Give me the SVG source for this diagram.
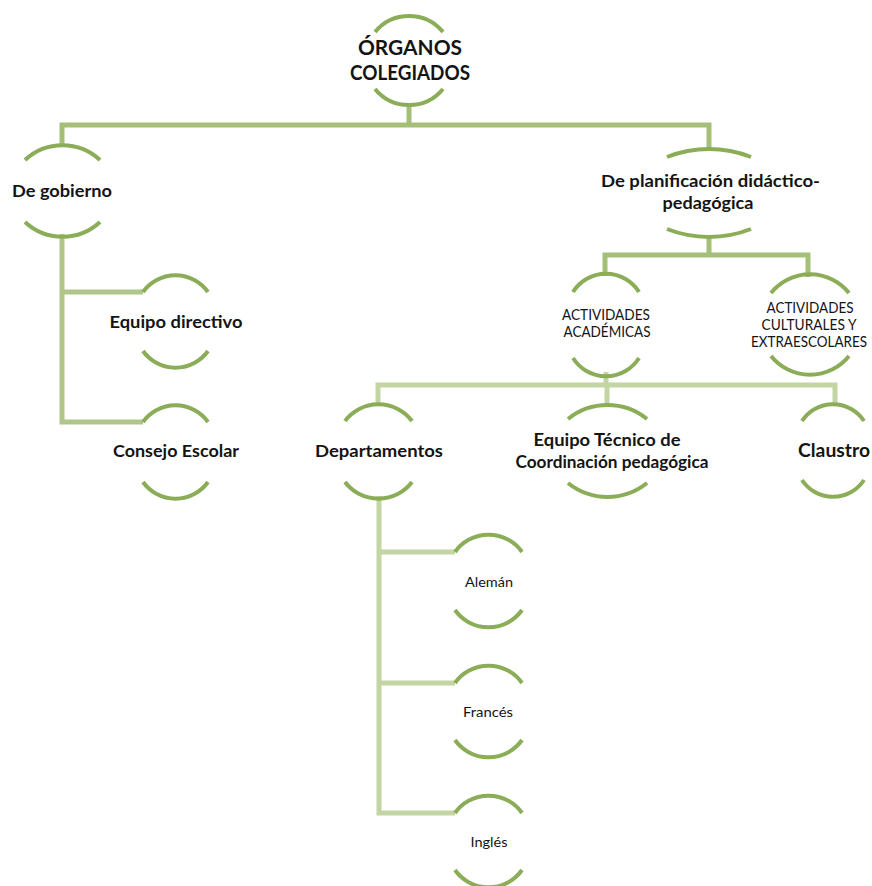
<svg xmlns="http://www.w3.org/2000/svg" width="872" height="886" viewBox="0 0 872 886">
<style>
.c1{fill:none;stroke:#a4bf78;stroke-width:5}
.c2{fill:none;stroke:#afc68a;stroke-width:5}
.c3{fill:none;stroke:#c4d5a4;stroke-width:5}
.arc{fill:none;stroke:#8cad58;stroke-width:4}
text{font-family:Lato,"Liberation Sans",sans-serif;fill:#141414;text-anchor:middle}
.b{font-weight:700}
</style>
<rect width="872" height="886" fill="#ffffff"/>
<g id="connectors">
<path class="c1" d="M409,104V125M62,147V125H709V150"/>
<path class="c2" d="M62,234V422H143M62,292H143"/>
<path class="c1" d="M709,236V255M605,276V255H808V277"/>
<path class="c3" d="M606,372V385M378,406V385H835V406M607,385V406"/>
<path class="c3" d="M379,496V813H455M379,552H455M379,683H455"/>
</g>
<g id="n-root">
<path class="arc" d="M375,32A44,44 0 0 1 443,32M375,89A44,44 0 0 0 443,89"/>
<text class="b" x="410" y="55" font-size="20" textLength="104" lengthAdjust="spacingAndGlyphs">ÓRGANOS</text>
<text class="b" x="410" y="80" font-size="20" textLength="120" lengthAdjust="spacingAndGlyphs">COLEGIADOS</text>
</g>
<g id="n-gobierno">
<path class="arc" d="M25,160A55,55 0 0 1 100,160M25,222A55,55 0 0 0 100,222"/>
<text class="b" x="62" y="197" font-size="17.5" textLength="100" lengthAdjust="spacingAndGlyphs">De gobierno</text>
</g>
<g id="n-planificacion">
<path class="arc" d="M667,157A115,115 0 0 1 751,157M667,229A115,115 0 0 0 751,229"/>
<text class="b" x="710.5" y="187" font-size="17.5" textLength="219" lengthAdjust="spacingAndGlyphs">De planificación didáctico-</text>
<text class="b" x="708" y="209" font-size="17.5" textLength="91" lengthAdjust="spacingAndGlyphs">pedagógica</text>
</g>
<g id="n-equipo-directivo">
<path class="arc" d="M143,292A40,40 0 0 1 208,292M143,351A40,40 0 0 0 208,351"/>
<text class="b" x="176" y="328" font-size="17.5" textLength="133" lengthAdjust="spacingAndGlyphs">Equipo directivo</text>
</g>
<g id="n-consejo">
<path class="arc" d="M143,422A40,40 0 0 1 208,422M143,482A40,40 0 0 0 208,482"/>
<text class="b" x="176" y="457" font-size="17.5" textLength="126" lengthAdjust="spacingAndGlyphs">Consejo Escolar</text>
</g>
<g id="n-academicas">
<path class="arc" d="M573,292A39,39 0 0 1 639,292M573,358A39,39 0 0 0 639,358"/>
<text x="606" y="320" font-size="15" textLength="88" lengthAdjust="spacingAndGlyphs">ACTIVIDADES</text>
<text x="607" y="337" font-size="15" textLength="87" lengthAdjust="spacingAndGlyphs">ACADÉMICAS</text>
</g>
<g id="n-culturales">
<path class="arc" d="M771,293A50,50 0 0 1 849,293M771,356A50,50 0 0 0 849,356"/>
<text x="810" y="313" font-size="15" textLength="87" lengthAdjust="spacingAndGlyphs">ACTIVIDADES</text>
<text x="809" y="330" font-size="15" textLength="95" lengthAdjust="spacingAndGlyphs">CULTURALES Y</text>
<text x="809" y="347" font-size="15" textLength="116" lengthAdjust="spacingAndGlyphs">EXTRAESCOLARES</text>
</g>
<g id="n-departamentos">
<path class="arc" d="M345,421A42,42 0 0 1 412,421M345,482A42,42 0 0 0 412,482"/>
<text class="b" x="379" y="457" font-size="17.5" textLength="128" lengthAdjust="spacingAndGlyphs">Departamentos</text>
</g>
<g id="n-etcp">
<path class="arc" d="M568,419A63,63 0 0 1 647,419M568,483A63,63 0 0 0 647,483"/>
<text class="b" x="607" y="446" font-size="16.5" textLength="147" lengthAdjust="spacingAndGlyphs">Equipo Técnico de</text>
<text class="b" x="612" y="468" font-size="16.5" textLength="193" lengthAdjust="spacingAndGlyphs">Coordinación pedagógica</text>
</g>
<g id="n-claustro">
<path class="arc" d="M802,421A37,37 0 0 1 864,421M802,480A37,37 0 0 0 864,480"/>
<text class="b" x="834" y="457" font-size="19" textLength="72" lengthAdjust="spacingAndGlyphs">Claustro</text>
</g>
<g id="n-aleman">
<path class="arc" d="M455,552A41,41 0 0 1 522,552M455,610A41,41 0 0 0 522,610"/>
<text x="489" y="587" font-size="13.5" textLength="48" lengthAdjust="spacingAndGlyphs">Alemán</text>
</g>
<g id="n-frances">
<path class="arc" d="M455,683A41,41 0 0 1 522,683M455,740A41,41 0 0 0 522,740"/>
<text x="488" y="717" font-size="13.5" textLength="50" lengthAdjust="spacingAndGlyphs">Francés</text>
</g>
<g id="n-ingles">
<path class="arc" d="M455,813A41,41 0 0 1 522,813M455,870A41,41 0 0 0 522,870"/>
<text x="489" y="847" font-size="13.5" textLength="37" lengthAdjust="spacingAndGlyphs">Inglés</text>
</g>
</svg>
